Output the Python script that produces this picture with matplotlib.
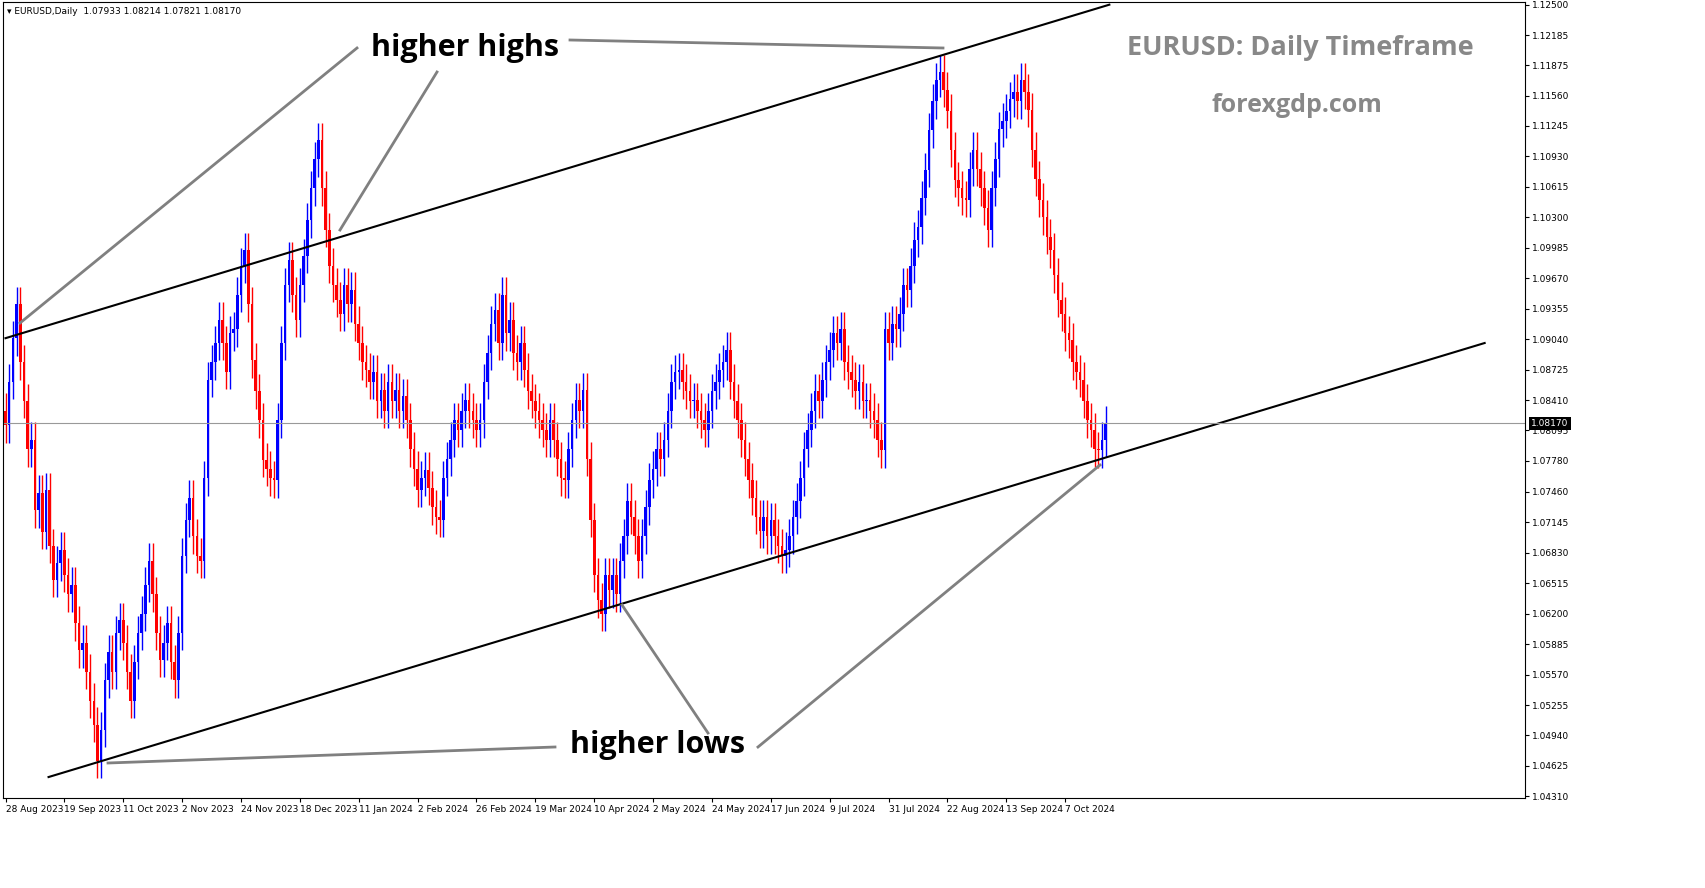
import matplotlib
matplotlib.use("Agg")
import matplotlib.pyplot as plt

closes_pips = [815, 860, 905, 940, 880, 840, 790, 800, 727, 745, 705, 748, 690, 655, 672, 686,
    660, 640, 650, 610, 582, 590, 560, 530, 505, 468, 500, 551, 580, 560, 600, 613,
    590, 560, 530, 570, 600, 620, 650, 675, 640, 600, 572, 590, 610, 570, 551,
    600, 680, 717, 740, 700, 680, 675, 760, 862, 880, 900, 924, 900, 870, 910, 914,
    950, 980, 996, 940, 882, 850, 820, 779, 770, 760, 758, 820, 900, 960, 986, 950, 924,
    960, 990, 1027, 1060, 1090, 1110, 1060, 1017, 980, 960, 945, 930, 960, 940, 955,
    920, 900, 880, 872, 860, 870, 840, 851, 830, 860, 840, 851, 830, 845, 820,
    790, 770, 748, 760, 769, 750, 730, 720, 717, 760, 780, 800, 820, 810, 830, 841,
    830, 820, 810, 820, 860, 890, 920, 934, 900, 950, 910, 924, 890, 880, 900, 872,
    850, 840, 830, 820, 810, 800, 820, 800, 780, 760, 758, 790, 820, 841, 830, 851,
    780, 717, 660, 634, 620, 660, 644, 660, 640, 675, 700, 737, 720, 700, 675,
    700, 730, 758, 770, 790, 780, 800, 830, 860, 870, 872, 860, 850, 840, 841,
    830, 820, 810, 830, 850, 860, 872, 880, 893, 860, 840, 820, 800, 780, 758,
    740, 720, 706, 720, 700, 717, 700, 690, 680, 686, 700, 720, 737, 760, 790, 810,
    830, 850, 840, 862, 880, 893, 910, 900, 914, 880, 870, 862, 850, 860, 840, 841,
    830, 820, 800, 789, 914, 900, 920, 914, 930, 960, 955, 980, 1007, 1020, 1050, 1079,
    1120, 1150, 1172, 1180, 1162, 1140, 1100, 1069, 1060, 1050, 1048, 1080, 1100,
    1080, 1060, 1040, 1017, 1060, 1090, 1121, 1130, 1140, 1152, 1160, 1150, 1172,
    1160, 1141, 1100, 1070, 1048, 1030, 1010, 996, 970, 945, 930, 910, 903,
    880, 870, 862, 840, 820, 810, 790, 789, 800, 817]
first_open = 1.0830
wick = 0.0018

y_ticks = [1.12500, 1.12185, 1.11875, 1.11560, 1.11245, 1.10930, 1.10615, 1.10300, 1.09985,
           1.09670, 1.09355, 1.09040, 1.08725, 1.08410, 1.08095, 1.07780, 1.07460, 1.07145,
           1.06830, 1.06515, 1.06200, 1.05885, 1.05570, 1.05255, 1.04940, 1.04625, 1.04310]
date_labels = ["28 Aug 2023", "19 Sep 2023", "11 Oct 2023", "2 Nov 2023", "24 Nov 2023",
               "18 Dec 2023", "11 Jan 2024", "2 Feb 2024", "26 Feb 2024", "19 Mar 2024",
               "10 Apr 2024", "2 May 2024", "24 May 2024", "17 Jun 2024", "9 Jul 2024",
               "31 Jul 2024", "22 Aug 2024", "13 Sep 2024", "7 Oct 2024"]
current_price = 1.08170
upper_line = [(0, 1.0905), (300, 1.1250)]
lower_line = [(11.7, 1.0451), (402, 1.0900)]

closes = [1.0 + p / 10000 for p in closes_pips]
opens = [first_open] + closes[:-1]

plt.rcParams["font.family"] = ["Open Sans", "DejaVu Sans"]
fig = plt.figure(figsize=(17.05, 8.88), dpi=100)
ax = fig.add_axes([0.0015, 0.101, 0.893, 0.897])
for i, (o, c) in enumerate(zip(opens, closes)):
    col = "#0000ff" if c >= o else "#ff0000"
    hi = max(o, c) + wick
    lo = min(o, c) - wick
    ax.vlines(i, lo, hi, color=col, lw=1)
    ax.bar(i, abs(c - o) if abs(c - o) > 1e-5 else 0.00005, bottom=min(o, c),
           width=0.7, color=col, linewidth=0)

ax.plot(*zip(*upper_line), color="black", lw=1.5)
ax.plot(*zip(*lower_line), color="black", lw=1.5)
ax.axhline(current_price, color="#999999", lw=0.8)

ax.set_xlim(-0.8, 413)
ax.set_ylim(1.04290, 1.12530)
ax.yaxis.tick_right()
ax.set_yticks(y_ticks)
ax.set_yticklabels([f"{v:.5f}" for v in y_ticks], fontsize=6.5, family="DejaVu Sans")
ax.set_xticks([16 * k for k in range(len(date_labels))])
ax.set_xticklabels(date_labels, fontsize=6.5, ha="left", family="DejaVu Sans")
ax.tick_params(length=3, pad=2)
ax.text(1.004, current_price, f"{current_price:.5f}", transform=ax.get_yaxis_transform(),
        fontsize=6.5, color="white", va="center", ha="left", family="DejaVu Sans",
        bbox=dict(facecolor="black", edgecolor="none", pad=1.5))
ax.text(0.003, 0.994, "▾ EURUSD,Daily  1.07933 1.08214 1.07821 1.08170",
        transform=ax.transAxes, fontsize=6.5, va="top", family="DejaVu Sans")

gray = "#808080"
def fig_line(x0, y0, x1, y1):
    fig.add_artist(plt.Line2D([x0 / 1705, x1 / 1705], [1 - y0 / 888, 1 - y1 / 888],
                              color=gray, lw=2))
fig_line(357, 48, 20, 323)
fig_line(437, 72, 340, 230)
fig_line(570, 40, 943, 48)
fig_line(555, 747, 108, 763)
fig_line(708, 733, 622, 605)
fig_line(758, 747, 1100, 465)
fig.text(465 / 1705, 1 - 48 / 888, "higher highs", fontsize=22, fontweight="bold",
         ha="center", va="center")
fig.text(658 / 1705, 1 - 745 / 888, "higher lows", fontsize=22, fontweight="bold",
         ha="center", va="center")
fig.text(1300 / 1705, 1 - 48 / 888, "EURUSD: Daily Timeframe", fontsize=19.5,
         fontweight="bold", color="#888888", ha="center", va="center")
fig.text(1297 / 1705, 1 - 106 / 888, "forexgdp.com", fontsize=18,
         fontweight="bold", color="#888888", ha="center", va="center")
fig.savefig("out.png", dpi=100, facecolor="white")
